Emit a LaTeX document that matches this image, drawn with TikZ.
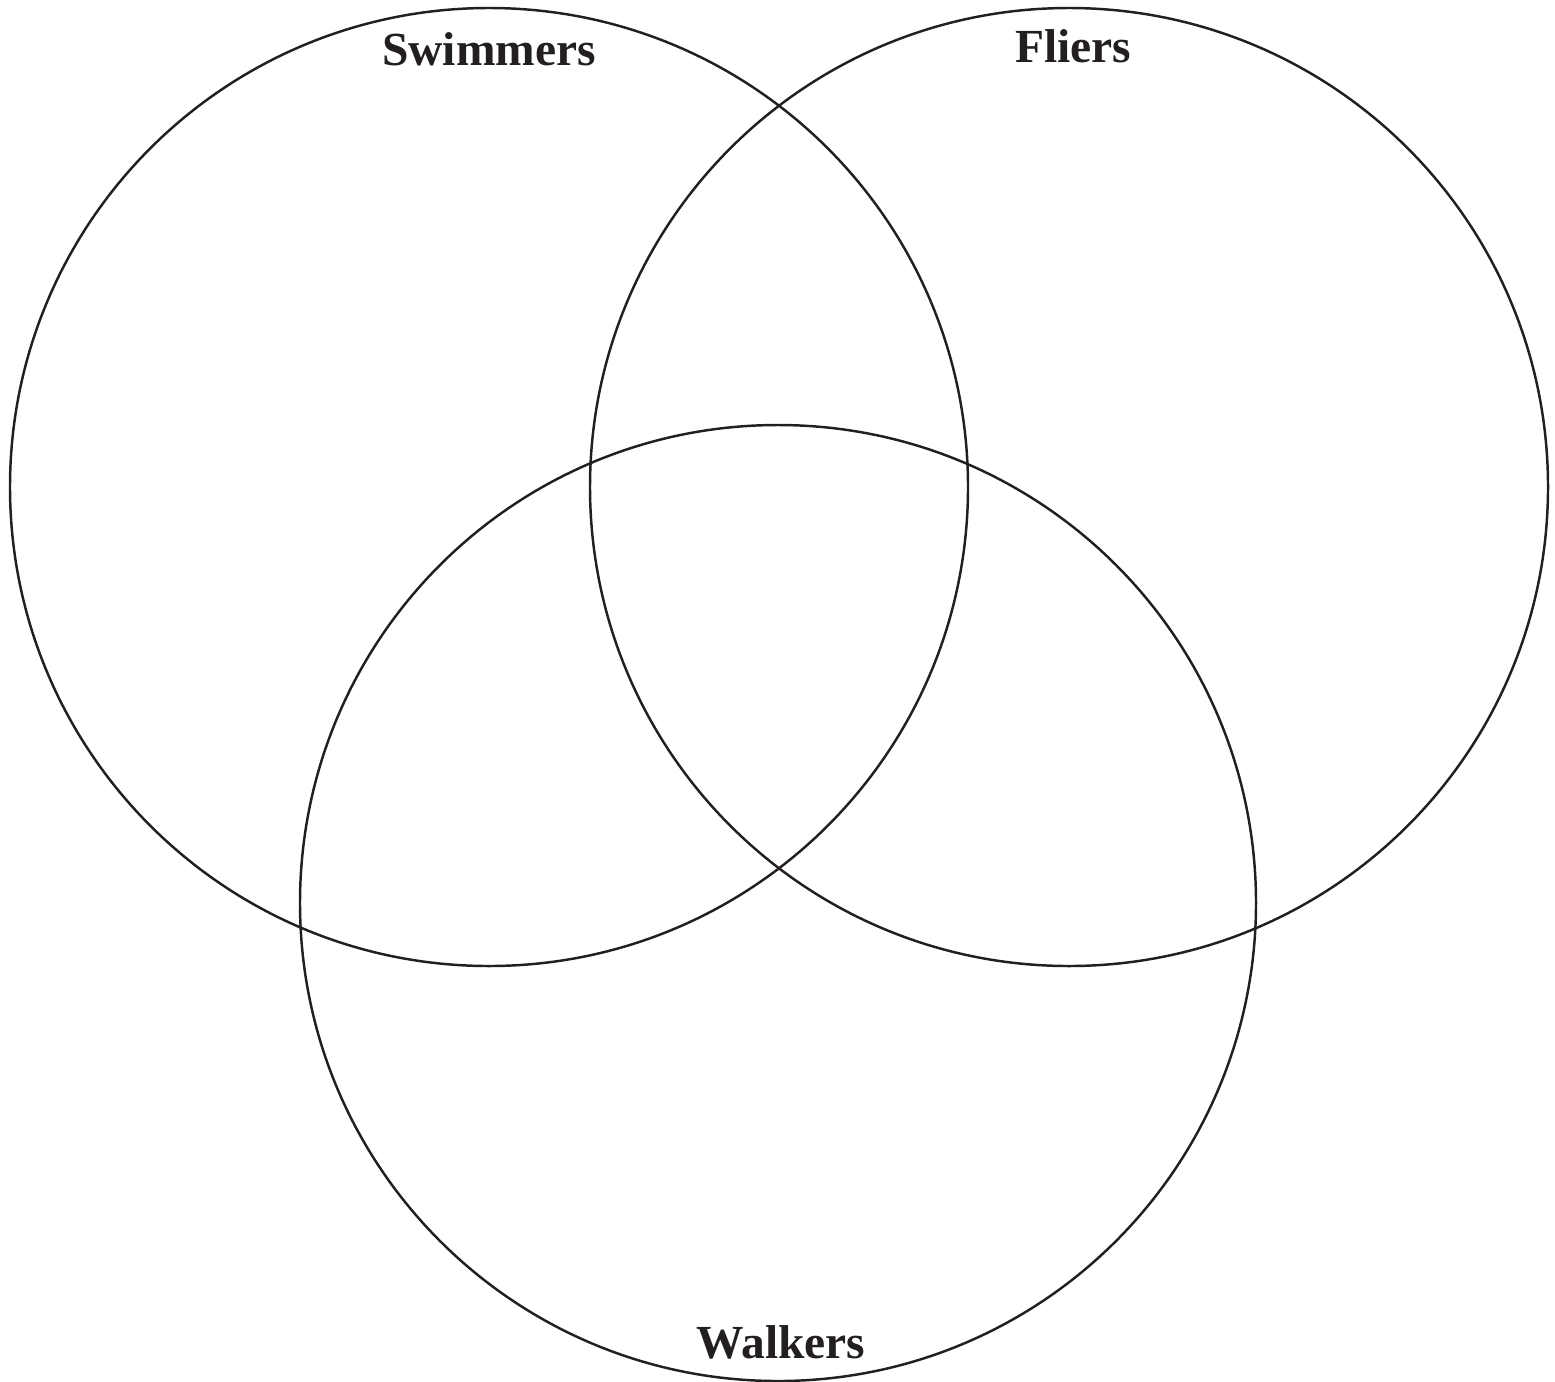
\documentclass[tikz,border=0pt]{standalone}
\usepackage{fontspec}
\setmainfont{Liberation Serif}
\definecolor{ink}{HTML}{231F20}
\begin{document}
\begin{tikzpicture}[x=0.01cm,y=-0.01cm,line width=0.7pt,
  setname/.style={font=\bfseries\fontsize{13.5}{16}\selectfont,text=ink,anchor=base}]
\useasboundingbox (0,0) rectangle (1555,1381);
\coordinate (swim) at (489,487);
\coordinate (fly) at (1069,487);
\coordinate (walk) at (778,903);
\draw[ink](swim)circle(479);
\draw[ink](fly)circle(479);
\draw[ink](walk)circle(478);
\node[setname] (swimlabel) at (489,65) {Swimmers};
\node[setname] (flylabel) at (1073,62) {Fliers};
\node[setname] (walklabel) at (781,1358) {Walkers};
\end{tikzpicture}
\end{document}
